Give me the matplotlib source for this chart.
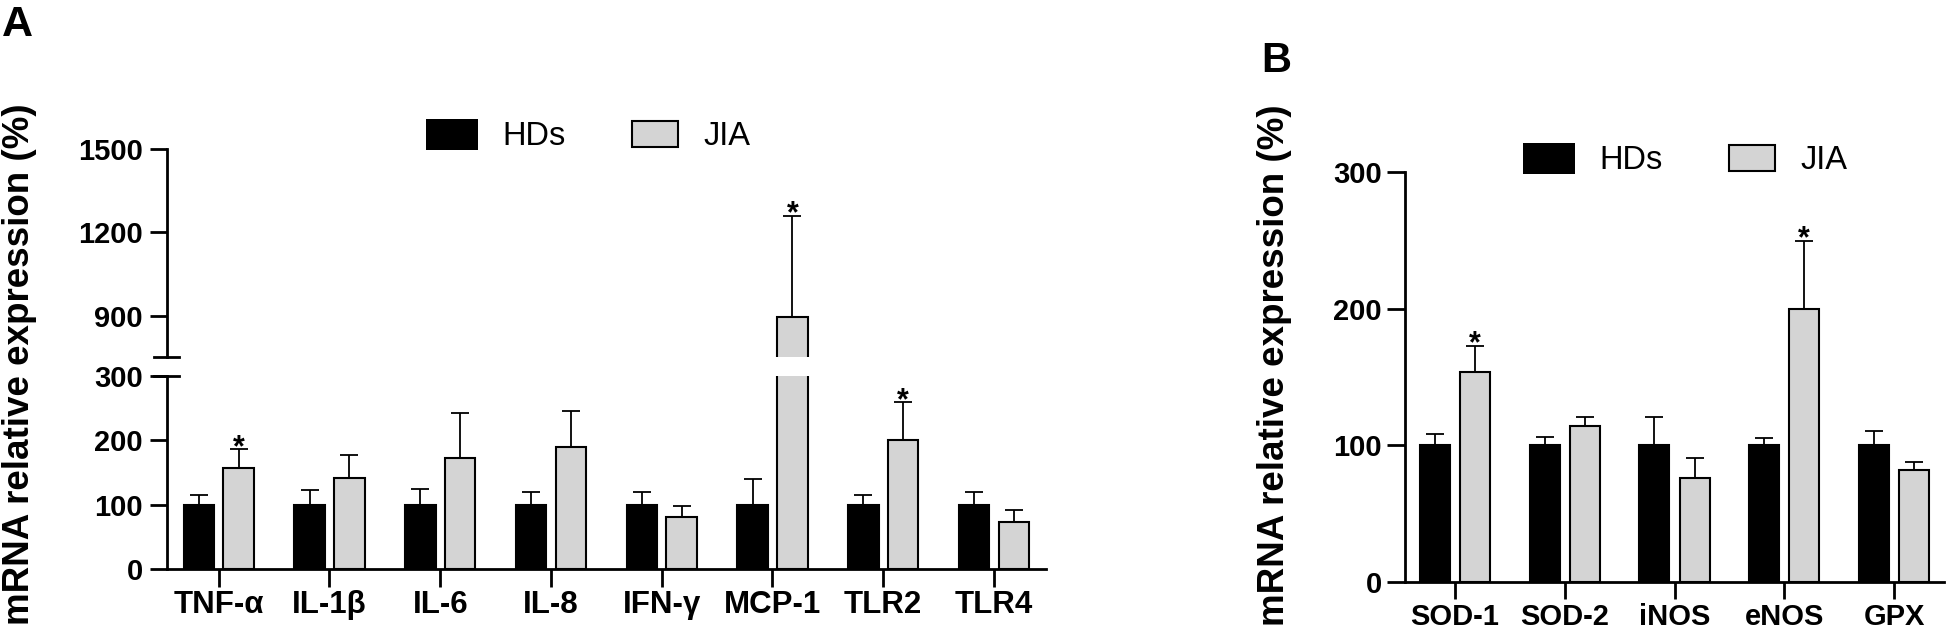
import numpy as np
import matplotlib
matplotlib.use("Agg")
import matplotlib.pyplot as plt
from matplotlib.patches import Rectangle

plt.rcParams['font.family'] = ['Liberation Sans', 'DejaVu Sans']

# panel A: inflammatory genes
cats_a = ['TNF-α', 'IL-1β', 'IL-6', 'IL-8', 'IFN-γ', 'MCP-1', 'TLR2', 'TLR4']
hd_a = [100, 100, 100, 100, 100, 100, 100, 100]
hd_a_err = [15, 23, 24, 20, 20, 40, 15, 20]
jia_a = [157, 142, 173, 190, 81, 895, 200, 74]
jia_a_err = [30, 36, 70, 55, 17, 365, 59, 18]
sig_a = [True, False, False, False, False, True, True, False]

# panel B: oxidative stress genes
cats_b = ['SOD-1', 'SOD-2', 'iNOS', 'eNOS', 'GPX']
hd_b = [100, 100, 100, 100, 100]
hd_b_err = [8, 6, 20.5, 5, 10.5]
jia_b = [154, 114, 76, 200, 82]
jia_b_err = [19, 7, 15, 50, 6]
sig_b = [True, False, False, True, False]

W, H = 1946, 631
GRAY = '#d4d4d4'
LW = 2.0


def fx(px):
    return px / W


def fy(py):
    return 1 - py / H


def box(left, top, right, bottom):
    return [fx(left), fy(bottom), fx(right) - fx(left), (bottom - top) / H]


def draw_bars(ax, x, hd, hd_err, jia, jia_err, width=0.276, off=0.18):
    ax.bar(x - off, hd, width, color='black', edgecolor='black', linewidth=1.5)
    ax.bar(x + off, jia, width, color=GRAY, edgecolor='black', linewidth=1.5)
    ekw = dict(fmt='none', ecolor='black', elinewidth=1.3, capsize=6.4, capthick=1.3)
    ax.errorbar(x - off, hd, yerr=[np.zeros(len(x)), hd_err], **ekw)
    ax.errorbar(x + off, jia, yerr=[np.zeros(len(x)), jia_err], **ekw)


def star(ax, xpos, top):
    ax.annotate('*', (xpos, top), xytext=(0, -5), textcoords='offset points',
                ha='center', va='baseline', fontsize=22, fontweight='bold')


def style(ax, ylen=12, fs=21):
    for s in ['top', 'right']:
        ax.spines[s].set_visible(False)
    for s in ['left', 'bottom']:
        ax.spines[s].set_linewidth(LW)
    ax.tick_params(width=LW, length=ylen, labelsize=fs, pad=5)
    for t in ax.get_yticklabels():
        t.set_fontweight('bold')


def legend_row(dx, dy):
    fig.add_artist(Rectangle((fx(426 + dx), fy(150 + dy)), fx(52), 31 / H,
                             transform=fig.transFigure, facecolor='black', edgecolor='none'))
    fig.text(fx(502 + dx), fy(145 + dy), 'HDs', fontsize=23.5, va='baseline')
    fig.add_artist(Rectangle((fx(632 + dx), fy(147 + dy)), fx(46), 26 / H,
                             transform=fig.transFigure, facecolor=GRAY, edgecolor='black', linewidth=1.5))
    fig.text(fx(703 + dx), fy(145 + dy), 'JIA', fontsize=23.5, va='baseline')


fig = plt.figure(figsize=(W / 100, H / 100), dpi=100)

# ---- panel A (broken y axis)
xa = np.arange(len(cats_a))
ax_lo = fig.add_axes(box(166.7, 376, 1046, 569.3))
ax_hi = fig.add_axes(box(166.7, 149, 1046, 357.3), sharex=ax_lo)

for ax in (ax_lo, ax_hi):
    draw_bars(ax, xa, hd_a, hd_a_err, jia_a, jia_a_err)
    ax.set_xlim(-0.47, len(cats_a) - 0.53)

ax_lo.set_ylim(0, 300)
ax_lo.set_yticks([0, 100, 200, 300])
ax_hi.set_ylim(750, 1500)
ax_hi.set_yticks([900, 1200, 1500])
style(ax_lo)
style(ax_hi)
ax_hi.spines['bottom'].set_visible(False)
ax_hi.tick_params(axis='x', bottom=False, labelbottom=False)

ax_lo.set_xticks(xa)
ax_lo.set_xticklabels(cats_a, fontsize=22.5, fontweight='bold')
ax_lo.tick_params(axis='x', length=13, pad=2)

# break marks
d = 0.0142
ax_hi.plot([-d, d], [0, 0], transform=ax_hi.transAxes, color='black', lw=LW, clip_on=False)
ax_lo.plot([-d, d], [1, 1], transform=ax_lo.transAxes, color='black', lw=LW, clip_on=False)

for i, s in enumerate(sig_a):
    if s:
        top = jia_a[i] + jia_a_err[i]
        star(ax_hi if top > 300 else ax_lo, xa[i] + 0.18, top)

# ---- panel B
xb = np.arange(len(cats_b))
ax_b = fig.add_axes(box(1405, 172.3, 1944, 581.7))
draw_bars(ax_b, xb, hd_b, hd_b_err, jia_b, jia_b_err, width=0.273, off=0.183)
ax_b.set_xlim(-0.456, len(cats_b) - 0.544)
ax_b.set_ylim(0, 300)
ax_b.set_yticks([0, 100, 200, 300])
style(ax_b, ylen=13)
ax_b.set_xticks(xb)
ax_b.set_xticklabels(cats_b, fontsize=21, fontweight='bold')
ax_b.tick_params(axis='x', length=12, pad=3)
ax_b.tick_params(axis='y', pad=3.5)
for i, s in enumerate(sig_b):
    if s:
        star(ax_b, xb[i] + 0.183, jia_b[i] + jia_b_err[i])

# ---- labels and legends
fig.text(fx(20), fy(364), 'mRNA relative expression (%)', rotation=90,
         ha='center', va='center', fontsize=26.5, fontweight='bold')
fig.text(fx(1275), fy(365), 'mRNA relative expression (%)', rotation=90,
         ha='center', va='center', fontsize=26.5, fontweight='bold')
fig.text(fx(2), fy(36), 'A', fontsize=31, fontweight='bold', va='baseline')
fig.text(fx(1261), fy(72.4), 'B', fontsize=30, fontweight='bold', va='baseline')

legend_row(0, 0)
legend_row(1097, 24)

fig.savefig('out.png', dpi=100)
